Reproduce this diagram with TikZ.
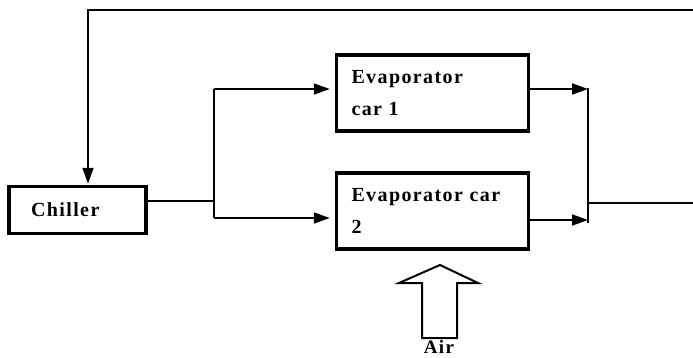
\documentclass[tikz,border=0pt]{standalone}
\usepackage{fontspec}
\setmainfont{Liberation Serif}
\usetikzlibrary{arrows.meta}

\tikzset{
  unit/.style={draw,rectangle,line width=3.5pt,minimum width=192pt,minimum height=76pt,
    text width=162pt,align=left,inner xsep=15pt,
    font=\bfseries\fontsize{20}{32}\selectfont\addfontfeature{LetterSpace=7}},
  pipe/.style={line width=1.8pt},
  tag/.style={font=\bfseries\fontsize{19}{20}\selectfont\addfontfeature{LetterSpace=7}}
}

\begin{document}
\begin{tikzpicture}[x=1pt,y=-1pt,>={Triangle[length=16pt,width=11pt]}]
  \useasboundingbox (0,0) rectangle (693,357);
  \node[unit,minimum width=137pt,minimum height=47pt,text width=93pt,inner xsep=22pt] (chiller) at (77.5,210) {Chiller};
  \node[unit] (car1) at (432.5,93) {Evaporator\\car 1};
  \node[unit] (car2) at (432.5,211) {Evaporator car\\2};
  % junctions
  \coordinate (sp) at (214,201);
  \coordinate (spt) at (214,89);
  \coordinate (spb) at (214,218);
  \coordinate (mgt) at (588,89);
  \coordinate (mgb) at (588,220);
  \coordinate (mg) at (588,203);
  \coordinate (out) at (693,203);
  \coordinate (ret) at (693,10);
  \coordinate (retc) at (88,10);
  % supply side
  \draw[pipe] ([yshift=9pt]chiller.east) -- (sp);
  \draw[pipe] (spt) -- (spb);
  \draw[pipe,->,shorten >=5pt] (spt) -- (spt -| car1.west);
  \draw[pipe,->,shorten >=5pt] (spb) -- (spb -| car2.west);
  % return side
  \draw[pipe,->] (car1.east |- mgt) -- (mgt);
  \draw[pipe,->] (car2.east |- mgb) -- (mgb);
  \draw[pipe] ([yshift=1pt]mgt) -- ([yshift=-3pt]mgb);
  \draw[pipe] (mg) -- (out);
  \draw[pipe,->,shorten >=1pt] (ret) -- (retc) -- (chiller.north -| retc);
  % air
  \draw[line width=2pt] (422,338) -- (422,283) -- (399,283) -- (440,265) -- (478,283)
    -- (457,283) -- (457,338) -- cycle;
  \node[tag,anchor=base,inner sep=0pt] (air) at (439,353) {Air};
\end{tikzpicture}
\end{document}
